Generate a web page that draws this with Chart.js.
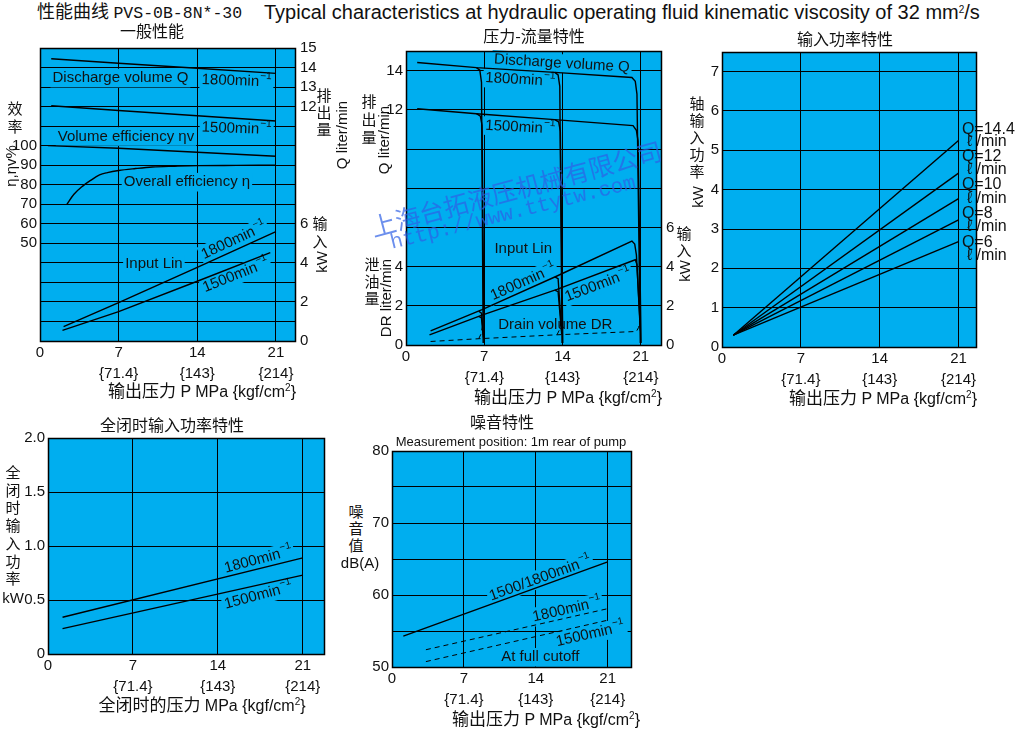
<!DOCTYPE html>
<html>
<head>
<meta charset="utf-8">
<title>PVS-0B-8N*-30</title>
<script src="https://cdn.jsdelivr.net/npm/chart.js@4.4.1/dist/chart.umd.min.js"></script>
<style>
  body { margin: 0; width: 1022px; height: 730px; background: #fff; position: relative; overflow: hidden;
         font-family: "Liberation Sans", Arial, sans-serif; color: #111; }
  canvas { position: absolute; }
  .t { position: absolute; white-space: nowrap; line-height: 1; }
  .cjk { font-family: "Noto Sans CJK SC", sans-serif; font-size: 16px; }
  .col { font-family: "Noto Sans CJK SC", sans-serif; font-size: 15px; }
  .lat { font-size: 15px; }
  .xt { font-size: 16px; }
  .xt .cjk { font-size: 17px; }
  .sup { font-size: 10px; vertical-align: 6px; }
  .wm { color: rgba(45, 95, 230, 0.7); }
</style>
</head>
<body>
<script>
const BLUE = '#00aeef';
const LATIN = '"Liberation Sans", Arial, sans-serif';

// tick labels
const pressureTicks = [0, 7, 14, 21];
const kgfTicks = ['', '{71.4}', '{143}', '{214}'];
const effTicks = [50, 60, 70, 80, 90, 100];
const genRightTicks = [0, 2, 4, 6, 12, 13, 14, 15];
const pfLeftTicks = [0, 2, 4, 12, 14];
const pfRightTicks = [0, 2, 4, 6];
const ipTicks = [0, 1, 2, 3, 4, 5, 6, 7];
const coTicks = ['0', '0.5', '1.0', '1.5', '2.0'];
const nsTicks = [50, 60, 70, 80];

// 一般性能 (pressure MPa -> Q l/min, efficiency %, input kW)
const genQP = [1, 7, 14, 21];
const genQ1800 = [14.45, 14.22, 13.96, 13.7];
const genQ1500 = [12.04, 11.8, 11.53, 11.26];
const genEtaVP = [0.7, 7, 14, 21];
const genEtaV = [100, 98.7, 96.6, 94.6];
const genEtaP = [2.4, 3, 3.8, 4.5, 5.3, 6, 7, 8.5, 10, 12, 14, 17.5, 21];
const genEta = [70, 75, 79.3, 82.2, 85, 86.2, 87.3, 88.3, 89.1, 89.5, 89.8, 89.9, 90];
const genLinP1800 = [2.1, 7, 14, 21];
const genLin1800 = [0.74, 1.97, 3.77, 5.6];
const genLinP1500 = [2.0, 7, 14, 20.5];
const genLin1500 = [0.54, 1.5, 3.06, 4.52];

// 压力-流量特性
const pfQP1800 = [1, 6.3, 13.3, 20.2, 20.5, 20.65, 20.95];
const pfQ1800 = [14.41, 14.15, 13.91, 13.65, 13.45, 12.8, 0.1];
const pfQP1500 = [1, 6.3, 13.3, 20.3, 20.6, 20.75, 21.02];
const pfQ1500 = [12.05, 11.8, 11.5, 11.19, 10.95, 10.4, 0.1];
const pfQCut7P1800 = [6.3, 6.6, 6.75, 6.9];
const pfQCut7_1800 = [14.15, 14.02, 13.4, 0.1];
const pfQCut7P1500 = [6.3, 6.65, 6.8, 6.98];
const pfQCut7_1500 = [11.8, 11.68, 11.2, 0.1];
const pfQCut14P1800 = [13.3, 13.6, 13.75, 13.95];
const pfQCut14_1800 = [13.91, 13.78, 13.2, 0.1];
const pfQCut14P1500 = [13.3, 13.65, 13.8, 14.02];
const pfQCut14_1500 = [11.5, 11.38, 10.9, 0.1];
const pfLP1800 = [2.2, 6.8, 13.5, 20.2, 20.45, 20.6, 20.95];
const pfL1800 = [0.72, 1.8, 3.52, 5.3, 5.15, 4.6, 0.9];
const pfLP1500 = [2.1, 6.8, 13.5, 20.5, 20.65, 20.95];
const pfL1500 = [0.52, 1.52, 2.84, 4.35, 4.1, 0.73];
const pfLCut7P = [6.5, 6.75, 6.92];
const pfLCut7_1800 = [1.72, 1.62, 0.5];
const pfLCut7_1500 = [1.46, 1.38, 0.38];
const pfLCut14P = [13.3, 13.6, 13.92];
const pfLCut14_1800 = [3.47, 3.38, 0.7];
const pfLCut14_1500 = [2.8, 2.72, 0.55];
const pfDrP = [2.2, 6.5, 13.5, 20.6, 20.8, 20.95];
const pfDr = [0.18, 0.32, 0.52, 0.69, 0.9, 1.35];
const pfDrCut7P = [6.5, 6.7, 6.85];
const pfDrCut7 = [0.32, 0.55, 1.0];
const pfDrCut14P = [13.5, 13.7, 13.85];
const pfDrCut14 = [0.52, 0.75, 1.15];

// 输入功率特性 (by discharge Q)
const ipP = [1, 21];
const ipQ144 = [0.3, 5.25];
const ipQ12 = [0.3, 4.42];
const ipQ10 = [0.3, 3.77];
const ipQ8 = [0.3, 3.23];
const ipQ6 = [0.3, 2.68];

// 全闭时输入功率特性
const coP = [1.2, 21];
const co1800 = [0.34, 0.89];
const co1500 = [0.235, 0.73];

// 噪音特性
const nsP = [1.1, 21];
const ns = [54.3, 64.6];
const nsCutP = [3.3, 21];
const nsCut1800 = [52.4, 58.1];
const nsCut1500 = [50.75, 56.5];

function pts(xs, ys) { return xs.map((x, i) => ({ x: x, y: ys[i] })); }

function line(xs, ys, axis, dash) {
  return {
    data: pts(xs, ys),
    yAxisID: axis || 'y',
    borderColor: '#000',
    borderWidth: dash ? 1 : 1.4,
    borderDash: dash ? [5, 4] : [],
    pointRadius: 0,
    fill: false,
    tension: 0
  };
}

function drawNote(chart, n) {
  const ctx = chart.ctx;
  const px = chart.scales.x.getPixelForValue(n.x);
  const py = chart.scales[n.axis || 'y'].getPixelForValue(n.y);
  const size = n.size || 15;
  const supSize = Math.round(size * 0.68);
  ctx.save();
  ctx.translate(px, py);
  ctx.rotate((n.rot || 0) * Math.PI / 180);
  ctx.font = size + 'px ' + LATIN;
  const w1 = ctx.measureText(n.text).width;
  let w2 = 0;
  if (n.sup) {
    ctx.font = supSize + 'px ' + LATIN;
    w2 = ctx.measureText(n.sup).width + 1;
  }
  const w = w1 + w2;
  const x0 = n.align === 'left' ? 0 : -w / 2;
  if (n.bg) {
    ctx.fillStyle = BLUE;
    ctx.fillRect(x0 - 2, -size * 0.62, w + 4, size * 1.24);
  }
  ctx.fillStyle = '#111';
  ctx.textBaseline = 'middle';
  ctx.textAlign = 'left';
  ctx.font = size + 'px ' + LATIN;
  ctx.fillText(n.text, x0, 0);
  if (n.sup) {
    ctx.font = supSize + 'px ' + LATIN;
    ctx.fillText(n.sup, x0 + w1 + 1, -size * 0.38);
  }
  ctx.restore();
}

const frame = {
  id: 'frame',
  beforeDraw(chart) {
    const a = chart.chartArea;
    chart.ctx.save();
    chart.ctx.fillStyle = BLUE;
    chart.ctx.fillRect(a.left, a.top, a.right - a.left, a.bottom - a.top);
    chart.ctx.restore();
  },
  beforeDatasetsDraw(chart, args, opts) {
    (opts.notes || []).forEach(n => drawNote(chart, n));
  },
  afterDraw(chart) {
    const a = chart.chartArea, ctx = chart.ctx;
    ctx.save();
    ctx.strokeStyle = '#000';
    ctx.lineWidth = 1.5;
    ctx.strokeRect(Math.round(a.left) + 0.5, Math.round(a.top) + 0.5,
                   Math.round(a.right - a.left), Math.round(a.bottom - a.top));
    ctx.restore();
  }
};

function yScale(def, pos, width, grid) {
  return {
    type: 'linear', position: pos, min: def.min, max: def.max,
    grid: { color: '#000', lineWidth: 1, drawTicks: false, drawOnChartArea: grid },
    border: { display: false },
    ticks: {
      stepSize: def.step, includeBounds: false, autoSkip: false, padding: pos === 'left' ? 3 : 5,
      color: '#111', font: { family: LATIN, size: 15 }, callback: def.labels
    },
    afterFit: (s) => { s.width = width; }
  };
}

function panel(box, cfg) {
  const m = Object.assign({ l: 40, r: 10, t: 12, b: 46 }, cfg.margin);
  const c = document.createElement('canvas');
  c.width = box.r - box.l + m.l + m.r;
  c.height = box.b - box.t + m.t + m.b;
  c.style.left = (box.l - m.l) + 'px';
  c.style.top = (box.t - m.t) + 'px';
  document.body.appendChild(c);

  const scales = {
    x: {
      type: 'linear', min: 0, max: cfg.xMax,
      grid: { color: '#000', lineWidth: 1, drawTicks: false },
      border: { display: false },
      ticks: {
        stepSize: 7, includeBounds: false, autoSkip: false, maxRotation: 0, padding: 1, color: '#111',
        font: { family: LATIN, size: 15, lineHeight: 1.4 },
        callback: (v) => {
          const i = pressureTicks.indexOf(v);
          return i <= 0 ? String(v) : [String(v), kgfTicks[i]];
        }
      },
      afterFit: (s) => { s.height = m.b; }
    },
    y: yScale(cfg.y, 'left', m.l, true)
  };
  if (cfg.y2) scales.y2 = yScale(cfg.y2, 'right', m.r, false);

  return new Chart(c, {
    type: 'line',
    data: { datasets: cfg.datasets },
    options: {
      responsive: false,
      animation: false,
      events: [],
      layout: { padding: { top: m.t, right: cfg.y2 ? 0 : m.r, left: 0, bottom: 0 } },
      scales: scales,
      plugins: { legend: { display: false }, tooltip: { enabled: false }, frame: { notes: cfg.notes } }
    },
    plugins: [frame]
  });
}

const SUP = '\u22121';

// 一般性能
const eta = line(genEtaP, genEta);
eta.tension = 0.4;
eta.cubicInterpolationMode = 'monotone';
panel({ l: 40, t: 46, r: 295, b: 341 }, {
  margin: { l: 40, r: 30 },
  xMax: 22.7,
  y: { min: 0, max: 150, step: 10, labels: v => effTicks.includes(v) ? String(v) : '' },
  y2: { min: 0, max: 15, step: 1, labels: v => genRightTicks.includes(v) ? String(v) : '' },
  datasets: [
    line(genQP, genQ1800, 'y2'), line(genQP, genQ1500, 'y2'),
    line(genEtaVP, genEtaV), eta,
    line(genLinP1800, genLin1800, 'y2'), line(genLinP1500, genLin1500, 'y2')
  ],
  notes: [
    { x: 7.16, y: 13.46, axis: 'y2', text: 'Discharge volume Q', bg: true },
    { x: 17.5, y: 13.31, axis: 'y2', text: '1800min', sup: SUP, rot: 2, bg: true },
    { x: 7.65, y: 10.47, axis: 'y2', text: 'Volume efficiency ηv', bg: true },
    { x: 17.5, y: 10.87, axis: 'y2', text: '1500min', sup: SUP, rot: 2, bg: true },
    { x: 13.08, y: 8.13, axis: 'y2', text: 'Overall efficiency η', bg: true },
    { x: 10.14, y: 3.97, axis: 'y2', text: 'Input Lin', bg: true },
    { x: 17.26, y: 5.14, axis: 'y2', text: '1800min', sup: SUP, rot: -25, bg: true },
    { x: 17.44, y: 3.36, axis: 'y2', text: '1500min', sup: SUP, rot: -22, bg: true }
  ]
});

// 压力-流量特性
panel({ l: 406, t: 49, r: 661, b: 345 }, {
  margin: { l: 35, r: 25 },
  xMax: 22.8,
  y: { min: 0, max: 15, step: 2, labels: v => pfLeftTicks.includes(v) ? String(v) : '' },
  y2: { min: 0, max: 15, step: 2, labels: v => pfRightTicks.includes(v) ? String(v) : '' },
  datasets: [
    line(pfQP1800, pfQ1800), line(pfQP1500, pfQ1500),
    line(pfQCut7P1800, pfQCut7_1800), line(pfQCut7P1500, pfQCut7_1500),
    line(pfQCut14P1800, pfQCut14_1800), line(pfQCut14P1500, pfQCut14_1500),
    line(pfLP1800, pfL1800, 'y2'), line(pfLP1500, pfL1500, 'y2'),
    line(pfLCut7P, pfLCut7_1800, 'y2'), line(pfLCut7P, pfLCut7_1500, 'y2'),
    line(pfLCut14P, pfLCut14_1800, 'y2'), line(pfLCut14P, pfLCut14_1500, 'y2'),
    line(pfDrP, pfDr, 'y', true), line(pfDrCut7P, pfDrCut7, 'y', true), line(pfDrCut14P, pfDrCut14, 'y', true)
  ],
  notes: [
    { x: 13.94, y: 14.36, text: 'Discharge volume Q', rot: 3.5, bg: true },
    { x: 10.21, y: 13.53, text: '1800min', sup: SUP, rot: 3, bg: true },
    { x: 10.21, y: 11.1, text: '1500min', sup: SUP, rot: 3, bg: true },
    { x: 10.48, y: 4.88, text: 'Input Lin', bg: true },
    { x: 10.48, y: 3.2, text: '1800min', sup: SUP, rot: -24, bg: true },
    { x: 17.18, y: 3.05, text: '1500min', sup: SUP, rot: -21, bg: true },
    { x: 13.35, y: 1.03, text: 'Drain volume DR', bg: true }
  ]
});

// 输入功率特性
panel({ l: 722, t: 52, r: 976, b: 347 }, {
  margin: { l: 25, r: 46 },
  xMax: 22.55,
  y: { min: 0, max: 7.5, step: 1, labels: v => ipTicks.includes(v) ? String(v) : '' },
  datasets: [
    line(ipP, ipQ144), line(ipP, ipQ12), line(ipP, ipQ10), line(ipP, ipQ8), line(ipP, ipQ6)
  ],
  notes: [
    { x: 21.3, y: 5.52, text: 'Q=14.4', align: 'left', size: 16 },
    { x: 21.74, y: 5.22, text: 'ℓ /min', align: 'left', size: 16 },
    { x: 21.3, y: 4.84, text: 'Q=12', align: 'left', size: 16 },
    { x: 21.74, y: 4.5, text: 'ℓ /min', align: 'left', size: 16 },
    { x: 21.3, y: 4.12, text: 'Q=10', align: 'left', size: 16 },
    { x: 21.74, y: 3.78, text: 'ℓ /min', align: 'left', size: 16 },
    { x: 21.3, y: 3.38, text: 'Q=8', align: 'left', size: 16 },
    { x: 21.74, y: 3.06, text: 'ℓ /min', align: 'left', size: 16 },
    { x: 21.3, y: 2.65, text: 'Q=6', align: 'left', size: 16 },
    { x: 21.74, y: 2.32, text: 'ℓ /min', align: 'left', size: 16 }
  ]
});

// 全闭时输入功率特性
panel({ l: 48, t: 438, r: 324, b: 654 }, {
  margin: { l: 45, r: 10 },
  xMax: 22.75,
  y: { min: 0, max: 2, step: 0.5, labels: v => coTicks[Math.round(v / 0.5)] },
  datasets: [line(coP, co1800), line(coP, co1500)],
  notes: [
    { x: 17.34, y: 0.873, text: '1800min', sup: SUP, rot: -15, bg: true },
    { x: 17.34, y: 0.54, text: '1500min', sup: SUP, rot: -15, bg: true }
  ]
});

// 噪音特性
panel({ l: 392, t: 451, r: 631, b: 667 }, {
  margin: { l: 25, r: 10 },
  xMax: 23.27,
  y: { min: 50, max: 80, step: 5, labels: v => nsTicks.includes(v) ? String(v) : '' },
  datasets: [line(nsP, ns), line(nsCutP, nsCut1800, 'y', true), line(nsCutP, nsCut1500, 'y', true)],
  notes: [
    { x: 14.44, y: 62.3, text: '1500/1800min', sup: SUP, rot: -20, bg: true },
    { x: 17.04, y: 57.97, text: '1800min', sup: SUP, rot: -13, bg: true },
    { x: 19.31, y: 54.54, text: '1500min', sup: SUP, rot: -13, bg: true },
    { x: 14.44, y: 51.35, text: 'At full cutoff', bg: true }
  ]
});

// text around the plots
function put(x, y, html, cls, rot, left) {
  const d = document.createElement('div');
  d.className = 't ' + (cls || '');
  d.style.left = x + 'px';
  d.style.top = y + 'px';
  d.style.transform = (left ? 'translate(0,-50%)' : 'translate(-50%,-50%)') + (rot ? ' rotate(' + rot + 'deg)' : '');
  d.innerHTML = html;
  document.body.appendChild(d);
  return d;
}
// vertical column of CJK characters, one div per character (first centre y, pitch)
function stack(x, y0, chars, step) {
  Array.from(chars).forEach((ch, i) => put(x, y0 + i * step, ch, 'col'));
}
const xTitle = '<span class="cjk">输出压力</span> P MPa {kgf/cm<span class="sup">2</span>}';

put(37, 12, '<span class="cjk" style="font-size:18px">性能曲线</span> <span style="font-family:\'Liberation Mono\';font-size:16.5px">PVS-0B-8N*-30</span>', '', 0, true);
put(264, 12, 'Typical characteristics at hydraulic operating fluid kinematic viscosity of 32 mm<span class="sup">2</span>/s', '', 0, true).style.fontSize = '20px';

// 一般性能
put(152, 30, '一般性能', 'cjk');
stack(15, 107, '效率', 18);
put(10, 166, 'η,ηv%', 'lat', -90);
stack(324, 94, '排出量', 17);
put(341, 135, 'Q liter/min', 'lat', -90);
stack(320, 222, '输入', 18);
put(321, 262, 'kW', 'lat', -90);
put(202, 390, xTitle, 'xt');

// 压力-流量特性
put(534, 35, '压力-流量特性', 'cjk');
stack(369, 100, '排出量', 18);
put(383, 140, 'Q liter/min', 'lat', -90);
stack(372, 263, '泄油量', 17);
put(385, 298, 'DR liter/min', 'lat', -90);
stack(684, 232, '输入', 17);
put(684, 271, 'kW', 'lat', -90);
put(568, 396, xTitle, 'xt');

// 输入功率特性
put(845, 38, '输入功率特性', 'cjk');
stack(697, 102, '轴输入功率', 17);
put(697, 197, 'kW', 'lat', -90);
put(883, 397, xTitle, 'xt');

// 全闭时输入功率特性
put(172, 424, '全闭时输入功率特性', 'cjk');
stack(13, 471, '全闭时输入功率', 17.7);
put(13, 597, 'kW', 'lat');
put(202, 704, '<span class="cjk">全闭时的压力</span> MPa {kgf/cm<span class="sup">2</span>}', 'xt');

// 噪音特性
put(502, 421, '噪音特性', 'cjk');
put(511, 441, 'Measurement position: 1m rear of pump', '').style.fontSize = '13px';
stack(356, 510, '噪音值', 17);
put(360, 562, 'dB(A)', 'lat');
put(546, 718, xTitle, 'xt');

// watermark
put(516, 188, '上海台拓液压机械有限公司', 'wm', -15).style.cssText += 'font-family:"Noto Sans CJK SC";font-size:25px;';
put(513, 213, 'http://www.ttytw.com', 'wm', -14).style.cssText += 'font-family:"Liberation Mono";font-size:21px;';
</script>
</body>
</html>
